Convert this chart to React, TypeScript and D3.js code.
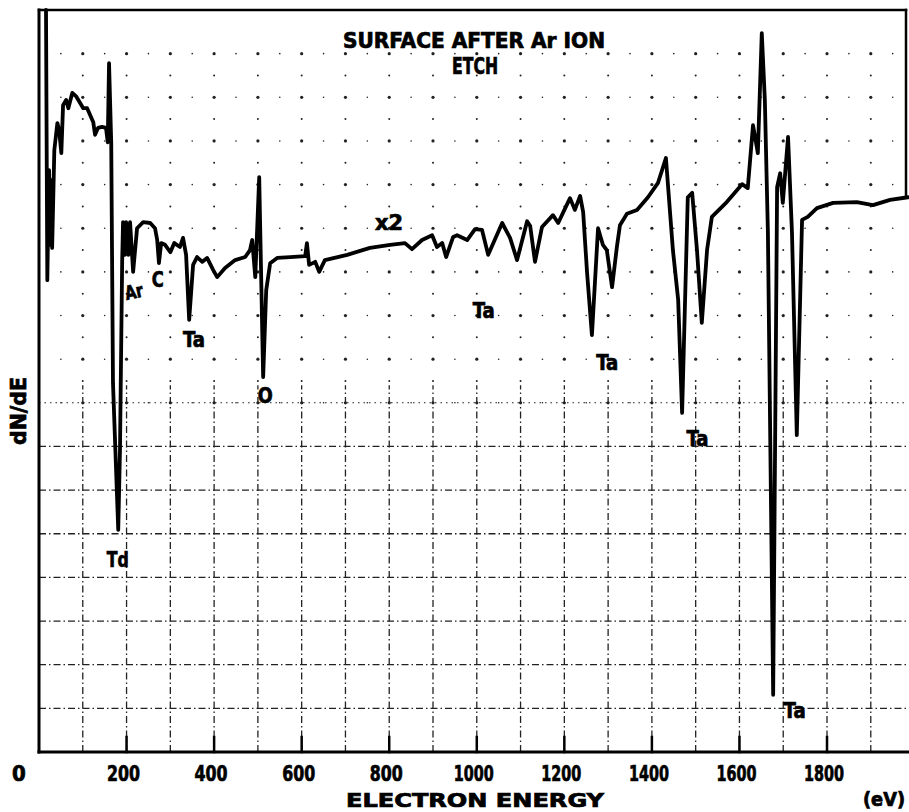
import React from "react";
import * as d3 from "d3";

// Electron energy (eV) and dN/dE (arbitrary units, grid divisions)
const energy = [16, 19, 23, 26, 28, 30, 35, 42, 46, 51, 55, 62, 67, 76, 85, 94, 101, 110, 117, 124, 128, 135, 144, 153, 157, 160, 165, 169, 181, 185, 190, 192, 196, 199, 204, 208, 215, 224, 238, 254, 265, 270, 274, 279, 288, 300, 309, 322, 329, 336, 343, 352, 361, 373, 384, 398, 407, 425, 448, 471, 482, 487, 494, 503, 512, 519, 528, 544, 574, 608, 612, 617, 631, 640, 653, 704, 756, 802, 836, 852, 875, 898, 909, 921, 930, 946, 955, 978, 996, 1012, 1026, 1058, 1076, 1092, 1115, 1122, 1133, 1149, 1174, 1186, 1202, 1213, 1224, 1236, 1243, 1252, 1263, 1277, 1288, 1297, 1309, 1320, 1327, 1343, 1366, 1391, 1414, 1432, 1448, 1460, 1469, 1482, 1492, 1503, 1514, 1526, 1537, 1571, 1606, 1619, 1631, 1642, 1651, 1658, 1665, 1677, 1686, 1693, 1699, 1711, 1720, 1731, 1743, 1756, 1777, 1814, 1868, 1905, 1944, 1985];

const signal = [17.0, 10.81, 13.33, 11.62, 13.1, 11.55, 13.79, 14.41, 14.25, 13.72, 14.82, 14.94, 14.75, 15.1, 15.02, 14.87, 14.75, 14.75, 14.59, 14.43, 14.14, 14.3, 14.32, 14.3, 13.97, 15.78, 13.95, 8.45, 5.09, 6.92, 11.27, 12.14, 11.39, 12.14, 11.39, 12.14, 11.0, 12.0, 12.14, 12.12, 12.0, 11.73, 11.2, 11.66, 11.62, 11.45, 11.66, 11.57, 11.78, 11.39, 9.9, 11.16, 11.34, 11.23, 11.32, 11.04, 10.88, 11.09, 11.27, 11.34, 11.5, 11.73, 10.88, 13.17, 8.59, 10.58, 11.2, 11.32, 11.34, 11.36, 11.66, 11.16, 11.23, 11.0, 11.27, 11.39, 11.55, 11.62, 11.66, 11.52, 11.73, 11.84, 11.57, 11.66, 11.34, 11.8, 11.84, 11.73, 11.98, 11.96, 11.39, 12.12, 11.78, 11.27, 12.16, 12.05, 11.23, 12.03, 12.3, 12.12, 12.46, 12.69, 12.42, 12.74, 12.37, 10.97, 9.55, 12.0, 11.62, 11.5, 10.65, 11.57, 12.07, 12.33, 12.42, 12.71, 13.04, 13.61, 11.5, 10.36, 7.77, 12.71, 12.81, 11.5, 9.83, 11.5, 12.26, 12.6, 13.01, 12.92, 14.36, 13.72, 16.47, 14.94, 11.89, 1.31, 12.94, 13.26, 12.58, 14.09, 11.89, 7.26, 12.19, 12.26, 12.46, 12.58, 12.6, 12.53, 12.65, 12.71];

const xTicks = [0, 200, 400, 600, 800, 1000, 1200, 1400, 1600, 1800];
const peakLabels = ["Td", "Ar", "C", "Ta", "O", "Ta", "Ta", "Ta", "Ta"];
const peakLabelEnergy = [180, 220, 271, 354, 517, 1016, 1298, 1504, 1726];
const peakLabelValue = [4.24, 10.4, 10.65, 9.28, 8.0, 9.94, 8.75, 7.01, 0.78];

const W = 909;
const H = 812;
const FONT = "'DejaVu Sans Condensed', 'DejaVu Sans', sans-serif";

const labelWidth = (s: string) =>
  s === "O" ? 15 : s === "C" ? 12 : s === "Ar" ? 18 : 22;
const tickWidth = (t: number) => {
  const s = String(t);
  return s.length * 11 - (s.startsWith("1") ? 4 : 0);
};

export default function App() {
  const x = d3.scaleLinear().domain([0, 1985]).range([39, 908]);
  const y = d3.scaleLinear().domain([0, 17]).range([752, 10]);

  const pts: [number, number][] = energy.map((e, i) => [e, signal[i]]);
  const line = d3
    .line<[number, number]>()
    .x((d) => x(d[0]))
    .y((d) => y(d[1]))
    .curve(d3.curveLinear);

  const gridE = d3.range(100, 2000, 100);
  const lowerH = d3.range(1, 8, 1);
  const dots: { cx: number; cy: number; r: number }[] = [];
  for (let v = 8; v <= 16; v += 0.5) {
    for (const e of gridE) {
      dots.push({ cx: x(e), cy: y(v), r: Number.isInteger(v) ? 1.6 : 1.0 });
    }
    if (Number.isInteger(v)) {
      for (let e = 50; e < 1985; e += 100) {
        dots.push({ cx: x(e), cy: y(v), r: 0.8 });
      }
    }
  }

  const textStyle = {
    fontFamily: FONT,
    fontWeight: "bold" as const,
    fill: "#000",
    stroke: "#000",
    strokeWidth: 0.7,
  };

  return (
    <svg
      width={W}
      height={H}
      style={{ position: "absolute", left: 0, top: 0, background: "#fff" }}
    >
      <rect width={W} height={H} fill="#fff" />
      {/* grid: dotted upper region */}
      <g fill="#222">
        {dots.map((d, i) => (
          <circle key={i} cx={d.cx} cy={d.cy} r={d.r} />
        ))}
      </g>
      {/* grid: dash-dot lower region */}
      <g stroke="#222" strokeWidth={1.3} fill="none">
        {lowerH.map((v) => (
          <line
            key={"h" + v}
            x1={x(0)}
            x2={x(1985)}
            y1={y(v)}
            y2={y(v)}
            strokeDasharray="7 3 1.5 3"
          />
        ))}
        <line
          x1={x(0)}
          x2={x(1985)}
          y1={y(8)}
          y2={y(8)}
          strokeDasharray="1.5 4"
          strokeWidth={1.1}
        />
        {gridE.map((e) => (
          <line
            key={"v" + e}
            x1={x(e)}
            x2={x(e)}
            y1={y(0)}
            y2={y(8.4)}
            strokeDasharray="7 3 1.5 3"
          />
        ))}
      </g>

      {/* frame */}
      <g stroke="#000" fill="none" strokeLinecap="square">
        <line x1={x(0)} x2={x(0)} y1={y(17)} y2={y(0)} strokeWidth={3} />
        <line x1={x(0)} x2={906} y1={y(17)} y2={y(17)} strokeWidth={2.5} />
        <line x1={906} x2={906} y1={y(17)} y2={y(12.7)} strokeWidth={2.5} />
        <line x1={x(0)} x2={W} y1={y(0)} y2={y(0)} strokeWidth={3} />
        {xTicks.slice(1).map((t) => (
          <line
            key={t}
            x1={x(t)}
            x2={x(t)}
            y1={y(0)}
            y2={y(0) - 15}
            strokeWidth={2.5}
          />
        ))}
      </g>

      {/* spectrum trace */}
      <path
        d={line(pts) || ""}
        fill="none"
        stroke="#000"
        strokeWidth={3.8}
        strokeLinejoin="round"
        strokeLinecap="round"
      />

      {/* tick labels and axis titles */}
      <g style={textStyle} fontSize={22}>
        {xTicks.map((t) => (
          <text
            key={t}
            x={t === 0 ? x(t) - 20 : x(t) - 3}
            y={781}
            textAnchor="middle"
            textLength={t === 0 ? undefined : tickWidth(t)}
            lengthAdjust="spacingAndGlyphs"
          >
            {t}
          </text>
        ))}
        <text
          x={475}
          y={807}
          textAnchor="middle"
          fontSize={20}
          textLength={258}
          lengthAdjust="spacingAndGlyphs"
        >
          ELECTRON ENERGY
        </text>
        <text
          x={884}
          y={806}
          textAnchor="middle"
          fontSize={19}
          textLength={42}
          lengthAdjust="spacingAndGlyphs"
        >
          (eV)
        </text>
        <text
          transform="translate(26,411) rotate(-90)"
          textAnchor="middle"
          fontSize={22}
          textLength={68}
          lengthAdjust="spacingAndGlyphs"
        >
          dN/dE
        </text>
      </g>

      {/* title */}
      <g style={textStyle} fontSize={21}>
        <text
          x={474}
          y={48}
          textAnchor="middle"
          textLength={262}
          lengthAdjust="spacingAndGlyphs"
        >
          SURFACE AFTER Ar ION
        </text>
        <text
          x={475}
          y={74}
          textAnchor="middle"
          fontSize={23}
          textLength={46}
          lengthAdjust="spacingAndGlyphs"
        >
          ETCH
        </text>
        <text
          x={389}
          y={230}
          textAnchor="middle"
          fontSize={21}
          textLength={28}
          lengthAdjust="spacingAndGlyphs"
        >
          x2
        </text>
      </g>

      {/* peak labels */}
      <g style={textStyle}>
        {peakLabels.map((s, i) => (
          <text
            key={i}
            x={x(peakLabelEnergy[i])}
            y={y(peakLabelValue[i])}
            textAnchor="middle"
            fontSize={s === "Ar" ? 19 : 22}
            textLength={labelWidth(s)}
            lengthAdjust="spacingAndGlyphs"
            transform={
              s === "Ar"
                ? `rotate(-12 ${x(peakLabelEnergy[i])} ${y(peakLabelValue[i])})`
                : undefined
            }
          >
            {s}
          </text>
        ))}
      </g>
    </svg>
  );
}
